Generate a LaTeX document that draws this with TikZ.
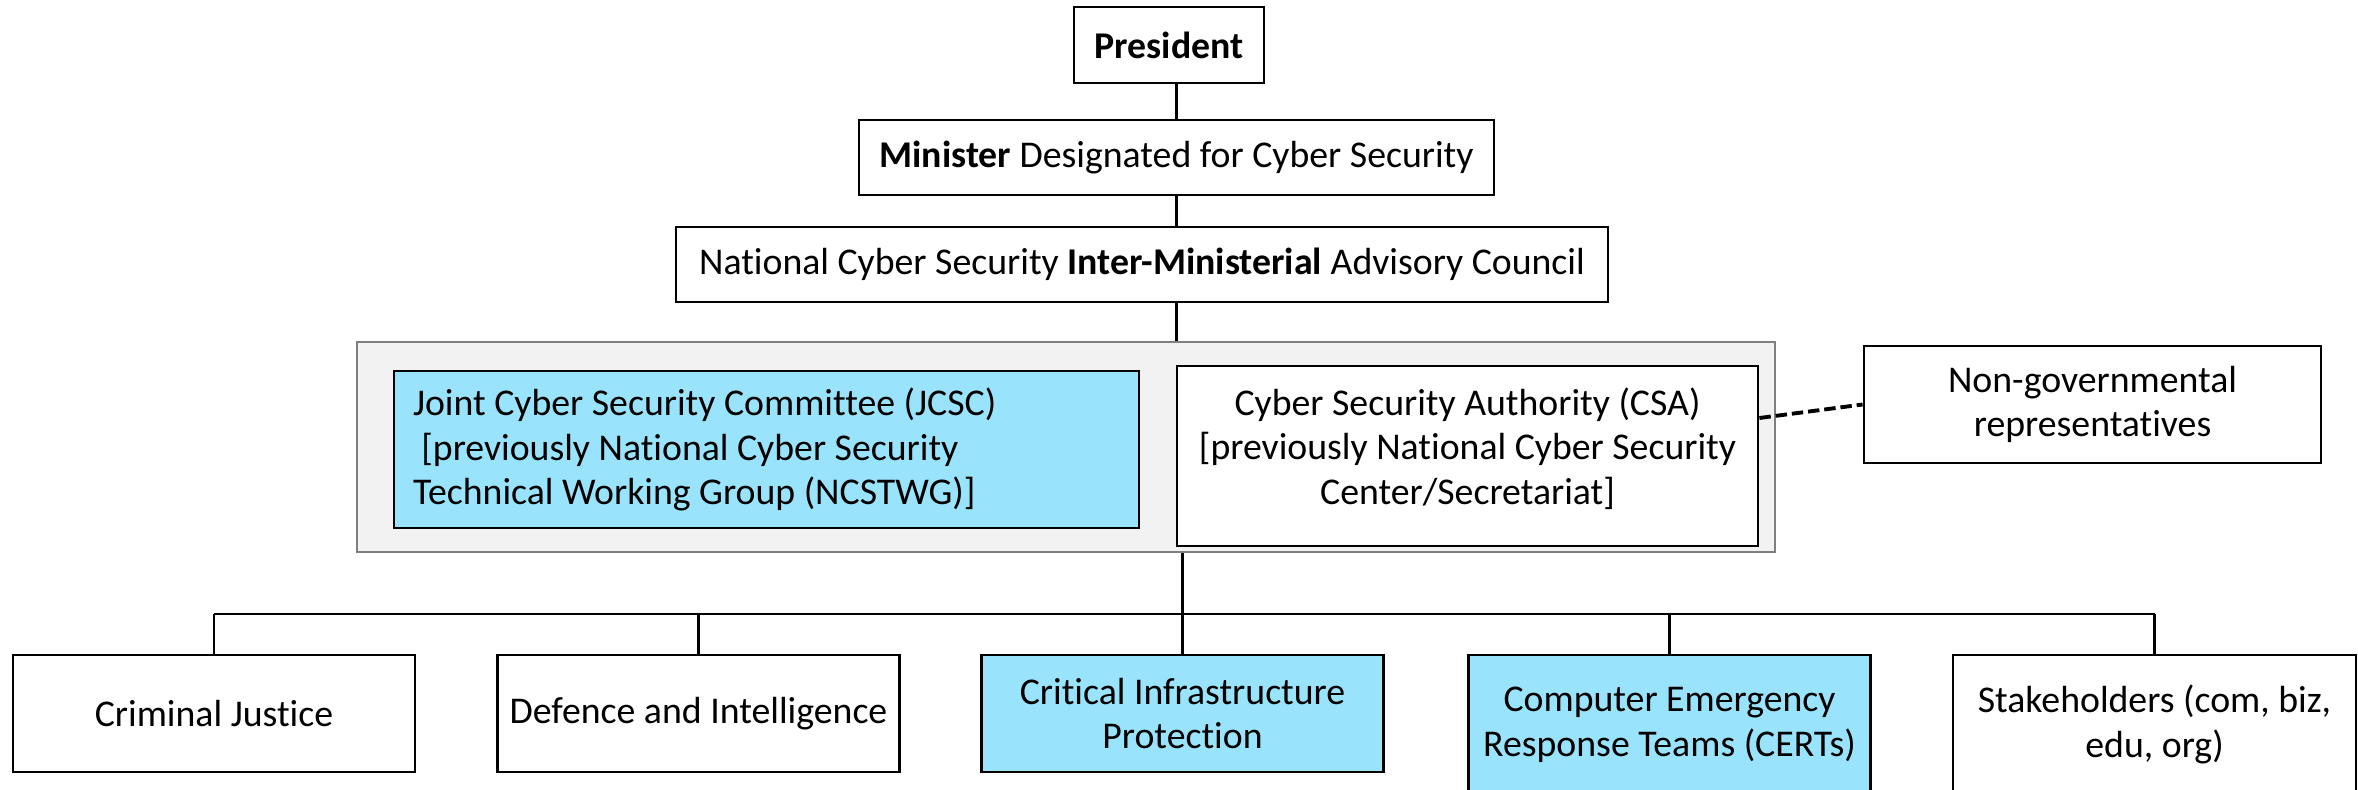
\documentclass[tikz,border=0pt]{standalone}
\usepackage{fontspec}
\setmainfont{Carlito}[Ligatures=NoCommon]
\usetikzlibrary{positioning, shadows}
\definecolor{unitBlue}{HTML}{99E4FC}
\definecolor{groupFill}{HTML}{F2F2F2}
\definecolor{groupLine}{HTML}{7F7F7F}

\begin{document}
\begin{tikzpicture}[
    box/.style={draw=black, line width=1.6pt, fill=white, align=center,
      inner sep=0pt, font=\fontsize{21.5}{25.5}\selectfont,
      drop shadow={shadow xshift=0.6pt, shadow yshift=-0.6pt, opacity=0.3}},
    bluebox/.style={box, fill=unitBlue},
    conn/.style={line width=1.4pt},
  ]
  \useasboundingbox (0,0) rectangle (47.16,-15.8);

  % Top of the chain
  \node[box, minimum width=3.8cm, minimum height=1.52cm] (pres) at (23.38,-0.90)
    {\bfseries President};
  \node[box, minimum width=12.7cm, minimum height=1.5cm] (mini) at (23.53,-3.15)
    {\textbf{Minister} Designated for Cyber Security};
  \node[box, minimum width=18.64cm, minimum height=1.5cm] (council) at (22.84,-5.29)
    {National Cyber Security \textbf{Inter-Ministerial} Advisory Council};

  % Grey panel holding the two joint bodies
  \node[draw=groupLine, fill=groupFill, line width=1.2pt, minimum width=28.36cm,
    minimum height=4.2cm, drop shadow={shadow xshift=0.6pt, shadow yshift=-0.6pt, opacity=0.3}]
    (group) at (21.32,-8.94) {};
  \node[bluebox, minimum width=14.9cm, minimum height=3.14cm, text width=14.14cm,
    align=flush left] (jcsc) at (15.33,-8.99)
    {Joint Cyber Security Committee (JCSC)\\
     \hspace{0.22em}[previously National Cyber Security\\
     Technical Working Group (NCSTWG)]};
  \node[box, minimum width=11.62cm, minimum height=3.6cm] (csa) at (29.35,-9.12)
    {Cyber Security Authority (CSA)\\
     {[previously National Cyber Security}\\
     Center/Secretariat]\\[-0.5cm]\mbox{}};
  \node[box, minimum width=9.14cm, minimum height=2.34cm] (ngo) at (41.85,-8.09)
    {Non-governmental\\representatives};

  % Bottom row
  \node[box, minimum width=8.04cm, minimum height=2.34cm] (crim) at (4.28,-14.27)
    {Criminal Justice};
  \node[box, minimum width=8.04cm, minimum height=2.34cm] (def) at (13.97,-14.27)
    {Defence and Intelligence};
  \node[bluebox, minimum width=8.04cm, minimum height=2.34cm] (crit) at (23.65,-14.27)
    {Critical Infrastructure\\Protection};
  \node[bluebox, minimum width=8.04cm, minimum height=2.78cm] (cert) at (33.39,-14.49)
    {Computer Emergency\\Response Teams (CERTs)};
  \node[box, minimum width=8.06cm, minimum height=2.78cm] (stake) at (43.09,-14.49)
    {Stakeholders (com, biz,\\edu, org)};

  % Connectors
  \draw[conn] (mini.north) -- (mini.north |- pres.south);
  \draw[conn] (mini.south) -- (mini.south |- council.north);
  \draw[conn] (council.south -| mini.south) -- (group.north -| mini.south);
  \draw[conn] (group.south -| crit.north) -- (crit.north);
  \draw[line width=2.2pt, dash pattern=on 6.5pt off 2.8pt]
    ([yshift=0.76cm]csa.east) -- (ngo.west);

  \coordinate (bus) at (23.65,-12.28);
  \draw[line width=1.7pt] (crim.north |- bus) -- (stake.north |- bus);
  \foreach \n in {crim,def,cert,stake}
    \draw[conn] (\n.north) -- (\n.north |- bus);
\end{tikzpicture}
\end{document}
